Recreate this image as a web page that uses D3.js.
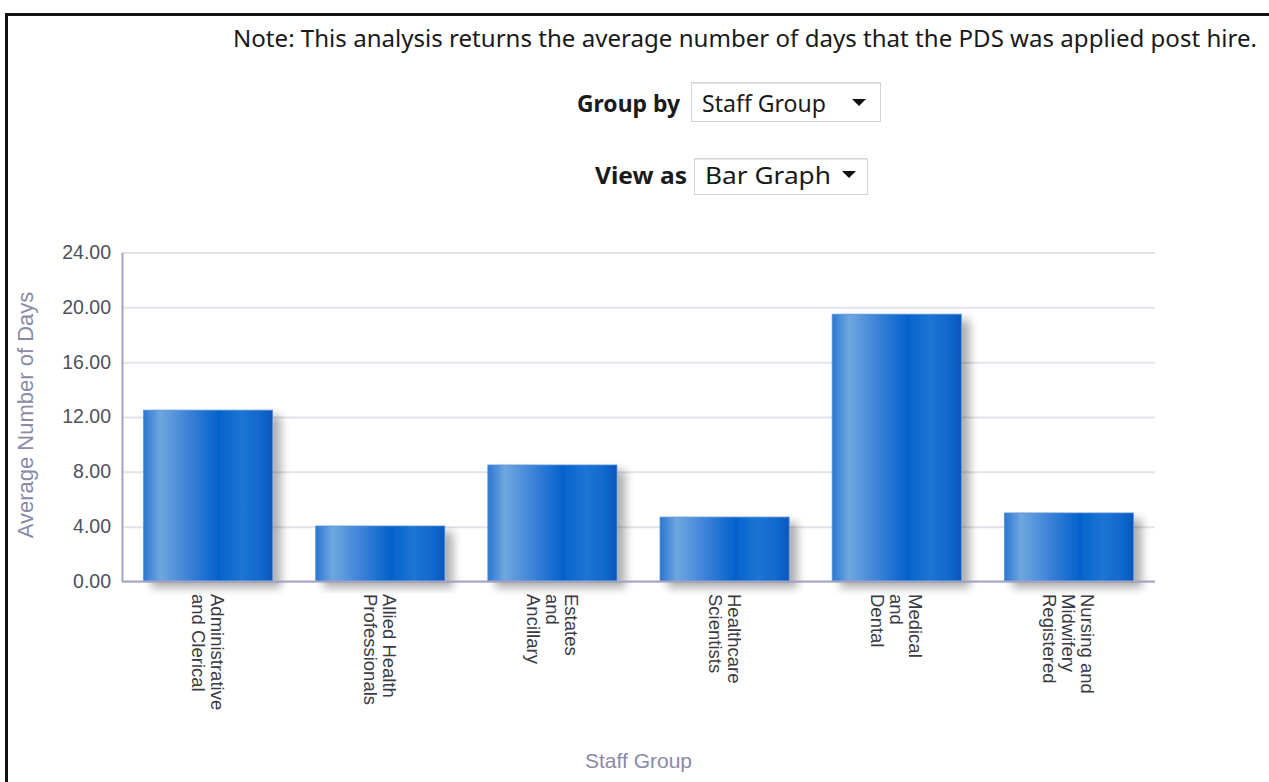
<!DOCTYPE html>
<html>
<head>
<meta charset="utf-8">
<script src="https://cdn.jsdelivr.net/npm/d3@7"></script>
<style>
    body { margin: 0; background: #fff; }
    svg { display: block; }
</style>
</head>
<body>
<div id="chart"></div>
<script>
// chart data
var categories = ["Administrative and Clerical", "Allied Health Professionals", "Estates and Ancillary",
    "Healthcare Scientists", "Medical and Dental", "Nursing and Midwifery Registered"];
var labelLines = [
    ["Administrative", "and Clerical"],
    ["Allied Health", "Professionals"],
    ["Estates", "and", "Ancillary"],
    ["Healthcare", "Scientists"],
    ["Medical", "and", "Dental"],
    ["Nursing and", "Midwifery", "Registered"]
];
var values = [12.5, 4.05, 8.5, 4.7, 19.5, 5.0];
var yTicks = [0, 4, 8, 12, 16, 20, 24];

var width = 1269;
var height = 782;

var svg = d3.select('#chart')
    .append('svg')
    .attr('width', width)
    .attr('height', height);

var defs = svg.append('defs');

// bar gradient (left to right)
var grad = defs.append('linearGradient')
    .attr('id', 'barGrad')
    .attr('x1', '0%').attr('x2', '100%')
    .attr('y1', '0%').attr('y2', '0%');
[[0, '#2a76d3'], [0.13, '#6fa7df'], [0.35, '#3c82d8'], [0.58, '#0462cc'],
 [0.76, '#1c75d3'], [0.92, '#1066cb'], [1, '#0656bc']].forEach(function(s) {
    grad.append('stop').attr('offset', s[0]).attr('stop-color', s[1]);
});

// soft drop shadow to right/below
var filt = defs.append('filter')
    .attr('id', 'shadow')
    .attr('x', '-10%').attr('y', '-10%')
    .attr('width', '130%').attr('height', '130%');
filt.append('feGaussianBlur').attr('in', 'SourceAlpha').attr('stdDeviation', 5).attr('result', 'blur');
filt.append('feOffset').attr('in', 'blur').attr('dx', 8).attr('dy', 6).attr('result', 'off');
filt.append('feComponentTransfer').attr('in', 'off').attr('result', 'shade')
    .append('feFuncA').attr('type', 'linear').attr('slope', 0.32);
var merge = filt.append('feMerge');
merge.append('feMergeNode').attr('in', 'shade');
merge.append('feMergeNode').attr('in', 'SourceGraphic');

// frame lines
svg.append('rect').attr('x', 5).attr('y', 13).attr('width', width).attr('height', 3).attr('fill', '#111');
svg.append('rect').attr('x', 5).attr('y', 13).attr('width', 3).attr('height', height).attr('fill', '#111');

// header texts and drop-downs
var uiFont = "'Noto Sans', 'Open Sans', sans-serif";

svg.append('text')
    .attr('x', 233).attr('y', 47)
    .attr('textLength', 1024)
    .attr('lengthAdjust', 'spacingAndGlyphs')
    .style('font-family', uiFont)
    .style('font-size', '23px')
    .attr('fill', '#1a1a1a')
    .text('Note: This analysis returns the average number of days that the PDS was applied post hire.');

function dropDown(label, lx, lw, bx, bw, by, bh, value, vw, ax, baseY) {
    svg.append('text')
        .attr('x', lx).attr('y', baseY)
        .attr('textLength', lw)
        .attr('lengthAdjust', 'spacingAndGlyphs')
        .style('font-family', uiFont)
        .style('font-size', '23px')
        .style('font-weight', 'bold')
        .attr('fill', '#1a1a1a')
        .text(label);
    svg.append('rect')
        .attr('x', bx + 0.5).attr('y', by + 0.5)
        .attr('width', bw).attr('height', bh)
        .attr('fill', '#fff')
        .attr('stroke', '#d4d4d4');
    svg.append('line')
        .attr('x1', bx + 1).attr('x2', bx + bw)
        .attr('y1', by + 1.5).attr('y2', by + 1.5)
        .attr('stroke', '#e8e8e8');
    svg.append('text')
        .attr('x', bx + 11).attr('y', baseY)
        .attr('textLength', vw)
        .attr('lengthAdjust', 'spacingAndGlyphs')
        .style('font-family', uiFont)
        .style('font-size', '23px')
        .attr('fill', '#1a1a1a')
        .text(value);
    svg.append('path')
        .attr('d', 'M' + ax + ',' + (baseY - 13) + 'h14l-7,7z')
        .attr('fill', '#111');
}
dropDown('Group by', 577, 103, 691, 189, 82, 39, 'Staff Group', 124, 852, 112);
dropDown('View as', 595, 92, 694, 173, 158, 36, 'Bar Graph', 126, 842, 184);

// plot area
var plotLeft = 122, plotRight = 1155, plotTop = 252.5, plotBottom = 581.5;

var x = d3.scaleBand()
    .domain(categories)
    .range([plotLeft, plotRight])
    .paddingInner(0.25)
    .paddingOuter(0.125);

var y = d3.scaleLinear()
    .domain([0, 24])
    .range([plotBottom, plotTop]);

var chartFont = "'Liberation Sans', Arial, sans-serif";

// gridlines
svg.append('g')
    .attr('transform', 'translate(' + plotLeft + ',0)')
    .call(d3.axisLeft(y).tickValues(yTicks).tickSize(-(plotRight - plotLeft)).tickFormat(''))
    .call(function(g) {
        g.select('.domain').remove();
        g.selectAll('line').attr('stroke', '#e2e2ea').attr('stroke-width', 2);
    });

// bars
svg.append('g')
    .selectAll('rect')
    .data(values)
    .enter()
    .append('rect')
    .attr('x', function(d, i) { return x(categories[i]); })
    .attr('y', function(d) { return y(d); })
    .attr('width', x.bandwidth())
    .attr('height', function(d) { return y(0) - y(d); })
    .attr('fill', 'url(#barGrad)')
    .attr('stroke', '#5b93d8')
    .attr('stroke-width', 0.8)
    .attr('filter', 'url(#shadow)');

// y axis
svg.append('g')
    .attr('transform', 'translate(' + plotLeft + ',0)')
    .call(d3.axisLeft(y).tickValues(yTicks).tickSize(0).tickPadding(11).tickFormat(d3.format('.2f')))
    .call(function(g) {
        g.select('.domain').attr('stroke', '#a3a3c2').attr('stroke-width', 2);
        g.selectAll('text')
            .style('font-family', chartFont)
            .style('font-size', '19.5px')
            .attr('fill', '#50505e')
            .attr('dy', '0.3em');
    });

// x axis line
svg.append('line')
    .attr('x1', plotLeft).attr('x2', plotRight)
    .attr('y1', plotBottom).attr('y2', plotBottom)
    .attr('stroke', '#a3a3c2')
    .attr('stroke-width', 2);

// rotated category labels
var lineH = 19, capH = 13;
var labels = svg.append('g')
    .selectAll('g')
    .data(labelLines)
    .enter()
    .append('g')
    .attr('transform', function(d, i) {
        return 'translate(' + (x(categories[i]) + x.bandwidth() / 2) + ',594) rotate(90)';
    });
labels.append('text')
    .style('font-family', chartFont)
    .style('font-size', '18.5px')
    .attr('fill', '#3a3a44')
    .selectAll('tspan')
    .data(function(d) {
        var b1 = capH / 2 - (d.length - 1) * lineH / 2;
        return d.map(function(t, k) { return { t: t, y: b1 + k * lineH }; });
    })
    .enter()
    .append('tspan')
    .attr('x', 0)
    .attr('y', function(d) { return d.y; })
    .text(function(d) { return d.t; });

// axis titles
svg.append('text')
    .attr('transform', 'translate(33,415) rotate(-90)')
    .attr('text-anchor', 'middle')
    .style('font-family', chartFont)
    .style('font-size', '22px')
    .attr('fill', '#8a8aa8')
    .text('Average Number of Days');

svg.append('text')
    .attr('x', (plotLeft + plotRight) / 2)
    .attr('y', 768)
    .attr('text-anchor', 'middle')
    .style('font-family', chartFont)
    .style('font-size', '21px')
    .attr('fill', '#8a8aa8')
    .text('Staff Group');
</script>
</body>
</html>
